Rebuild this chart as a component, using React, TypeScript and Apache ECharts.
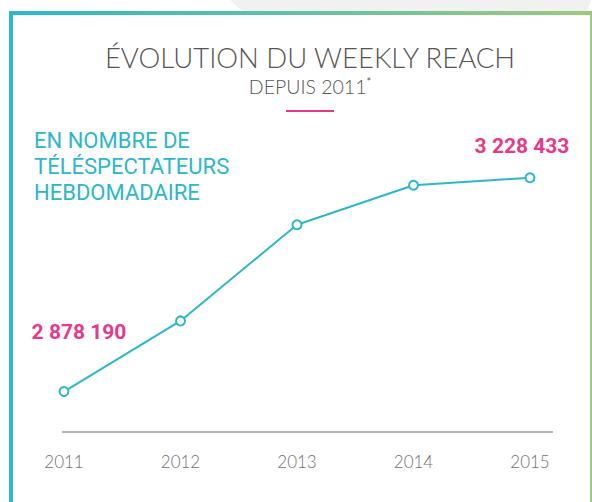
import React, { useEffect, useRef } from "react";
import * as echarts from "echarts";

const years = ["2011", "2012", "2013", "2014", "2015"];
const reach = [2878190, 2993900, 3151500, 3216000, 3228433];
const shownLabels = ["2 878 190", "", "", "", "3 228 433"];
const labelOffsets: ([number, number] | null)[] = [[15, -60], null, null, null, [-8, -32]];

const titleText = "ÉVOLUTION DU WEEKLY REACH";
const subtitleText = "DEPUIS 2011";
const sideText = ["EN NOMBRE DE", "TÉLÉSPECTATEURS", "HEBDOMADAIRE"];

const CYAN = "#2db7c8";
const PINK = "#e8388a";

export default function App() {
  const ref = useRef<HTMLDivElement>(null);
  useEffect(() => {
    if (!ref.current) return;
    const chart = echarts.init(ref.current, null, { renderer: "svg" });
    chart.setOption({
      animation: false,
      backgroundColor: "#ffffff",
      grid: { left: 64, right: 62, top: 134, bottom: 70 },
      xAxis: {
        type: "category",
        data: years,
        boundaryGap: false,
        axisLine: { show: false },
        axisTick: { show: false },
        splitLine: { show: false },
        axisLabel: {
          margin: 21,
          fontFamily: "Lato",
          fontWeight: 300,
          fontSize: 17,
          color: "#707070",
        },
      },
      yAxis: {
        type: "value",
        min: 2812000,
        max: 3300000,
        show: false,
        splitLine: { show: false },
      },
      graphic: [
        {
          type: "polygon",
          shape: { points: [[230, 0], [591, 0], [587, 11], [242, 11]] },
          style: { fill: "#f1f1f1" },
          silent: true,
        },
        {
          type: "rect",
          shape: { x: 9, y: 11, width: 583, height: 4 },
          style: {
            fill: {
              type: "linear",
              x: 0,
              y: 0,
              x2: 1,
              y2: 0,
              colorStops: [
                { offset: 0, color: "#29b8cb" },
                { offset: 1, color: "#9dca7c" },
              ],
            },
          },
          silent: true,
        },
        {
          type: "rect",
          shape: { x: 9, y: 11, width: 4, height: 491 },
          style: { fill: "#2bb8ca" },
          silent: true,
        },
        {
          type: "rect",
          shape: { x: 590, y: 11, width: 2, height: 491 },
          style: { fill: "#9dca82" },
          silent: true,
        },
        {
          type: "text",
          x: 310,
          y: 57.5,
          style: {
            text: titleText,
            fontFamily: "Lato",
            fontWeight: 300,
            fontSize: 27.5,
            fill: "#555555",
            align: "center",
            verticalAlign: "middle",
          },
        },
        {
          type: "text",
          x: 310,
          y: 86,
          style: {
            text: subtitleText + "{sup|*}",
            fontFamily: "Lato",
            fontWeight: 300,
            fontSize: 19.5,
            fill: "#555555",
            align: "center",
            verticalAlign: "middle",
            rich: {
              sup: {
                fontFamily: "Lato",
                fontSize: 11,
                fill: "#555555",
                verticalAlign: "top",
                padding: [0, 0, 9, 0],
              },
            },
          },
        },
        {
          type: "rect",
          shape: { x: 286, y: 110, width: 48, height: 2 },
          style: { fill: PINK },
          silent: true,
        },
        {
          type: "text",
          x: 34,
          y: 127,
          style: {
            text: sideText.join("\n"),
            fontFamily: "Roboto",
            fontSize: 22,
            lineHeight: 26,
            fill: CYAN,
            align: "left",
            verticalAlign: "top",
          },
        },
        {
          type: "line",
          shape: { x1: 62, y1: 432, x2: 553, y2: 432 },
          style: { stroke: "#b3b3b3", lineWidth: 2 },
          silent: true,
        },
      ],
      series: [
        {
          type: "line",
          data: reach.map((v, i) => ({
            value: v,
            label: labelOffsets[i]
              ? {
                  show: true,
                  position: "inside",
                  offset: labelOffsets[i],
                  formatter: shownLabels[i],
                  fontFamily: "Roboto",
                  fontWeight: "bold",
                  fontSize: 21,
                  color: PINK,
                }
              : { show: false },
          })),
          symbol: "circle",
          symbolSize: 9,
          showSymbol: true,
          lineStyle: { color: CYAN, width: 2 },
          itemStyle: { color: "#ffffff", borderColor: CYAN, borderWidth: 2 },
        },
      ],
    });
    return () => chart.dispose();
  }, []);
  return (
    <div
      ref={ref}
      style={{ position: "fixed", left: 0, top: 0, width: 592, height: 502 }}
    />
  );
}
